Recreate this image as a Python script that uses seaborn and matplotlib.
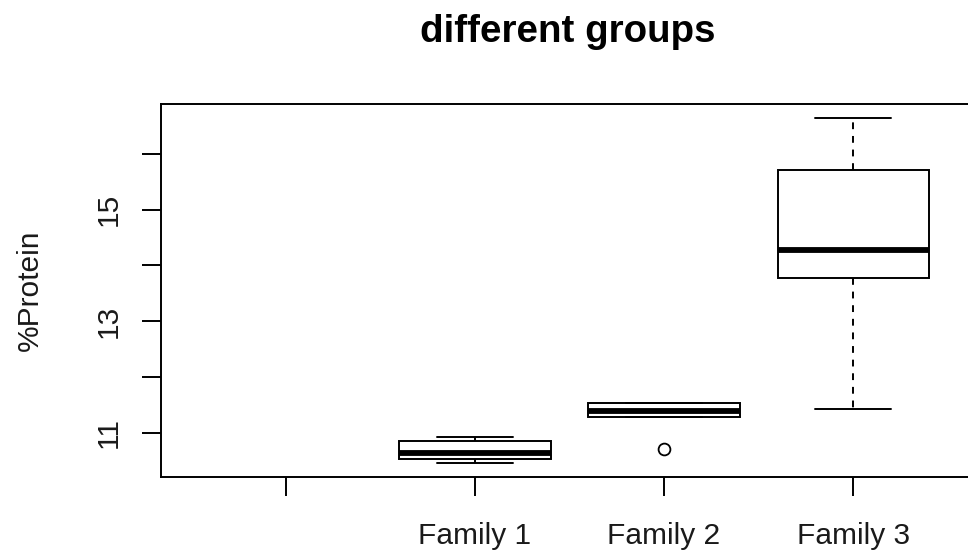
import matplotlib
matplotlib.use("Agg")
import matplotlib.pyplot as plt
import seaborn as sns
import pandas as pd

# Category slots along the x axis (the first slot is an unnamed, empty group)
categories = ["", "Family 1", "Family 2", "Family 3"]

# %Protein measurements per family
family_1 = [10.45, 10.52, 10.64, 10.85, 10.92]
family_2 = [10.70, 11.28, 11.39, 11.53, 11.53]
family_3 = [11.43, 13.77, 14.27, 15.71, 16.64]

y_ticks = [11, 12, 13, 14, 15, 16]
y_tick_labels = ["11", "", "13", "", "15", ""]

df = pd.DataFrame({
    "group": ["Family 1"] * len(family_1)
    + ["Family 2"] * len(family_2)
    + ["Family 3"] * len(family_3),
    "protein": family_1 + family_2 + family_3,
})

sns.set_style("white")
plt.rcParams["font.family"] = ["Liberation Sans", "DejaVu Sans"]

fig = plt.figure(figsize=(9.68, 5.56), dpi=100)
ax = fig.add_axes([0.1663, 0.1421, 0.8440, 0.6709])

lw = 1.4
ink = "#1a1a1a"
sns.boxplot(
    data=df, x="group", y="protein", order=categories,
    color="white", linecolor="black", linewidth=lw, width=0.8,
    whis=1.5, ax=ax,
    medianprops=dict(color="black", linewidth=4.2, solid_capstyle="butt"),
    whiskerprops=dict(color="black", linewidth=lw, linestyle=(0, (3.5, 3.5))),
    capprops=dict(color="black", linewidth=lw),
    flierprops=dict(marker="o", markersize=8.5, markerfacecolor="none",
                    markeredgecolor="black", markeredgewidth=1.3),
)

ax.set_xlim(-0.66, 3.66)
ax.set_ylim(10.205, 16.897)

ax.set_xticks(range(len(categories)))
ax.set_xticklabels(categories)
ax.set_yticks(y_ticks)
ax.set_yticklabels(y_tick_labels, rotation=90, va="center")

for side in ["left", "right", "top", "bottom"]:
    ax.spines[side].set_visible(True)
    ax.spines[side].set_color("black")
    ax.spines[side].set_linewidth(lw)

ax.tick_params(axis="both", direction="out", length=13.5, width=lw,
               color="black", labelsize=21.5, labelcolor=ink,
               left=True, bottom=True)
ax.tick_params(axis="y", pad=14)
ax.tick_params(axis="x", pad=19)

ax.set_xlabel("")
ax.set_ylabel("%Protein", fontsize=21.5, color=ink, labelpad=37)

fig.text(0.5867, 1 - 41.7 / 556, "different groups", ha="center",
         va="baseline", fontsize=27.7, fontweight="bold", color="black")

fig.savefig("out.png", dpi=100)
